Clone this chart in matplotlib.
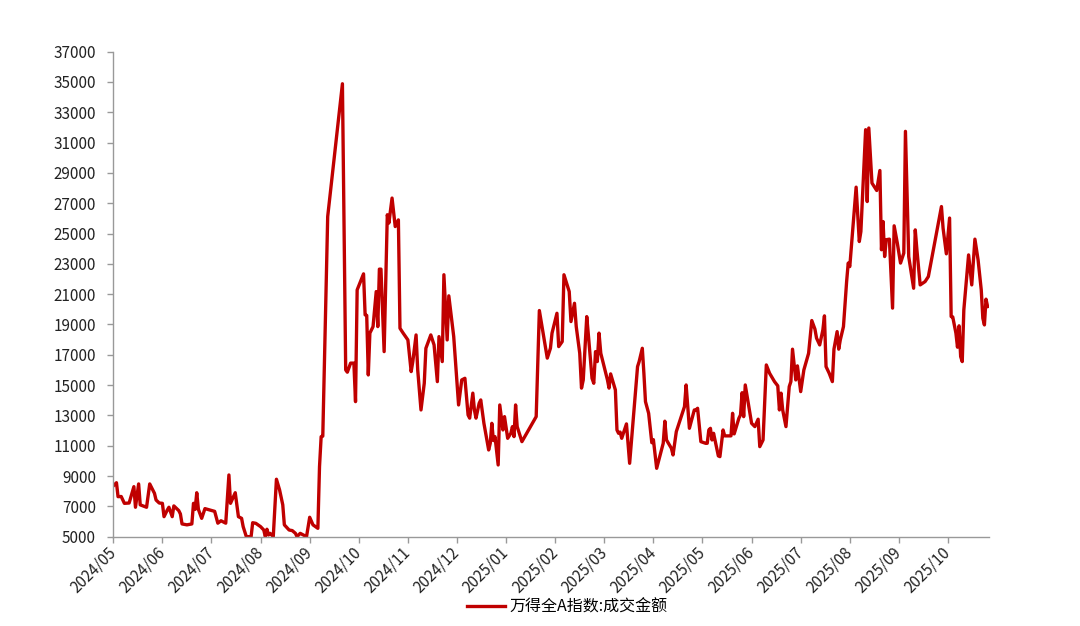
import calendar
import matplotlib
matplotlib.use("Agg")
import matplotlib.pyplot as plt
import matplotlib.transforms as mtransforms
import pandas as pd

plt.rcParams['font.family'] = ['Noto Sans CJK SC', 'DejaVu Sans']

series_name = "万得全A指数:成交金额"

dates = [
    "2024-05-01", "2024-05-03", "2024-05-04", "2024-05-06", "2024-05-08", "2024-05-11", "2024-05-14",
    "2024-05-15", "2024-05-17", "2024-05-18", "2024-05-22", "2024-05-24", "2024-05-27", "2024-05-28",
    "2024-05-30", "2024-06-01", "2024-06-02", "2024-06-04", "2024-06-05", "2024-06-07", "2024-06-08",
    "2024-06-11", "2024-06-12", "2024-06-13", "2024-06-16", "2024-06-19", "2024-06-20", "2024-06-21",
    "2024-06-22", "2024-06-23", "2024-06-25", "2024-06-27", "2024-06-30", "2024-07-03", "2024-07-05",
    "2024-07-07", "2024-07-10", "2024-07-12", "2024-07-13", "2024-07-16", "2024-07-18", "2024-07-20",
    "2024-07-21", "2024-07-23", "2024-07-26", "2024-07-27", "2024-07-29", "2024-08-01", "2024-08-03",
    "2024-08-04", "2024-08-05", "2024-08-06", "2024-08-07", "2024-08-09", "2024-08-11", "2024-08-13",
    "2024-08-15", "2024-08-16", "2024-08-19", "2024-08-21", "2024-08-23", "2024-08-24", "2024-08-26",
    "2024-08-28", "2024-08-30", "2024-09-01", "2024-09-03", "2024-09-06", "2024-09-07", "2024-09-08",
    "2024-09-09", "2024-09-12", "2024-09-21", "2024-09-23", "2024-09-24", "2024-09-26", "2024-09-28",
    "2024-09-29", "2024-09-30", "2024-10-04", "2024-10-05", "2024-10-06", "2024-10-07", "2024-10-08",
    "2024-10-10", "2024-10-12", "2024-10-13", "2024-10-14", "2024-10-15", "2024-10-17", "2024-10-19",
    "2024-10-20", "2024-10-22", "2024-10-24", "2024-10-26", "2024-10-27", "2024-10-29", "2024-11-01",
    "2024-11-03", "2024-11-04", "2024-11-06", "2024-11-07", "2024-11-09", "2024-11-11", "2024-11-12",
    "2024-11-15", "2024-11-17", "2024-11-19", "2024-11-20", "2024-11-22", "2024-11-23", "2024-11-25",
    "2024-11-26", "2024-11-29", "2024-12-02", "2024-12-04", "2024-12-06", "2024-12-08", "2024-12-09",
    "2024-12-11", "2024-12-12", "2024-12-13", "2024-12-15", "2024-12-16", "2024-12-18", "2024-12-21",
    "2024-12-22", "2024-12-23", "2024-12-24", "2024-12-25", "2024-12-27", "2024-12-28", "2024-12-30",
    "2024-12-31", "2025-01-02", "2025-01-04", "2025-01-05", "2025-01-06", "2025-01-07", "2025-01-08",
    "2025-01-11", "2025-01-20", "2025-01-22", "2025-01-27", "2025-01-29", "2025-01-30", "2025-02-02",
    "2025-02-03", "2025-02-05", "2025-02-06", "2025-02-09", "2025-02-10", "2025-02-12", "2025-02-13",
    "2025-02-15", "2025-02-16", "2025-02-17", "2025-02-19", "2025-02-20", "2025-02-22", "2025-02-23",
    "2025-02-24", "2025-02-25", "2025-02-26", "2025-02-27", "2025-03-03", "2025-03-04", "2025-03-05",
    "2025-03-08", "2025-03-09", "2025-03-10", "2025-03-11", "2025-03-12", "2025-03-15", "2025-03-17",
    "2025-03-22", "2025-03-23", "2025-03-25", "2025-03-26", "2025-03-27", "2025-03-29", "2025-03-31",
    "2025-04-01", "2025-04-03", "2025-04-07", "2025-04-08", "2025-04-09", "2025-04-12", "2025-04-13",
    "2025-04-15", "2025-04-20", "2025-04-21", "2025-04-23", "2025-04-26", "2025-04-27", "2025-04-28",
    "2025-04-30", "2025-05-03", "2025-05-04", "2025-05-05", "2025-05-06", "2025-05-07", "2025-05-08",
    "2025-05-11", "2025-05-12", "2025-05-14", "2025-05-15", "2025-05-19", "2025-05-20", "2025-05-21",
    "2025-05-24", "2025-05-25", "2025-05-26", "2025-05-27", "2025-05-28", "2025-06-01", "2025-06-03",
    "2025-06-05", "2025-06-06", "2025-06-08", "2025-06-10", "2025-06-12", "2025-06-15", "2025-06-17",
    "2025-06-18", "2025-06-19", "2025-06-20", "2025-06-22", "2025-06-24", "2025-06-25", "2025-06-26",
    "2025-06-28", "2025-06-29", "2025-07-01", "2025-07-03", "2025-07-06", "2025-07-08", "2025-07-10",
    "2025-07-11", "2025-07-13", "2025-07-15", "2025-07-16", "2025-07-17", "2025-07-19", "2025-07-21",
    "2025-07-22", "2025-07-24", "2025-07-25", "2025-07-26", "2025-07-28", "2025-07-30", "2025-07-31",
    "2025-08-01", "2025-08-05", "2025-08-07", "2025-08-08", "2025-08-11", "2025-08-12", "2025-08-13",
    "2025-08-15", "2025-08-18", "2025-08-20", "2025-08-21", "2025-08-22", "2025-08-23", "2025-08-24",
    "2025-08-26", "2025-08-28", "2025-08-29", "2025-08-31", "2025-09-02", "2025-09-04", "2025-09-05",
    "2025-09-07", "2025-09-10", "2025-09-11", "2025-09-12", "2025-09-14", "2025-09-17", "2025-09-19",
    "2025-09-27", "2025-09-28", "2025-09-30", "2025-10-02", "2025-10-03", "2025-10-04", "2025-10-06",
    "2025-10-07", "2025-10-08", "2025-10-09", "2025-10-10", "2025-10-11", "2025-10-13", "2025-10-14",
    "2025-10-16", "2025-10-18", "2025-10-20", "2025-10-22", "2025-10-23", "2025-10-24", "2025-10-25",
    "2025-10-26",
]

turnover = [
    8350, 8560, 7640, 7650, 7200, 7220, 8300,
    6940, 8480, 7100, 6940, 8480, 7860, 7420,
    7220, 7200, 6320, 6760, 6940, 6320, 7030,
    6720, 6500, 5840, 5780, 5840, 7200, 6800,
    7900, 6800, 6210, 6850, 6760, 6670, 5890,
    6050, 5890, 9070, 7200, 7900, 6320, 6210,
    5660, 5000, 5000, 5920, 5880, 5660, 5440,
    5000, 5490, 5110, 5220, 5000, 8790, 8080,
    7100, 5780, 5440, 5400, 5220, 5000, 5220,
    5110, 5000, 6280, 5780, 5550, 9620, 11600,
    11630, 26120, 34880, 16000, 15850, 16450, 16450,
    13910, 21280, 22340, 19630, 19600, 15670, 18430,
    18860, 21170, 18860, 22650, 22650, 17210, 26240,
    25690, 27340, 25460, 25900, 18750, 18430, 17980,
    15890, 16550, 18310, 16000, 13360, 15120, 17430,
    18310, 17650, 15230, 18200, 16550, 22280, 17980,
    20890, 18200, 13690, 15340, 15450, 13030, 12820,
    14470, 13360, 12820, 13800, 14020, 12480, 10720,
    11160, 12480, 11340, 11600, 9730, 13690, 12040,
    12920, 11490, 11820, 12260, 11600, 13690, 12260,
    11270, 12920, 19920, 16780, 17430, 18430, 19740,
    17540, 17870, 22280, 21170, 19190, 20400, 18860,
    17100, 14800, 15340, 19520, 18200, 15450, 15120,
    17210, 16550, 18430, 17100, 15340, 14800, 15740,
    14680, 12040, 11820, 11900, 11490, 12440, 9840,
    16220, 16550, 17430, 15780, 13910, 13140, 11200,
    11400, 9510, 11160, 12620, 11380, 10830, 10390,
    11930, 13580, 15010, 12150, 13360, 13360, 13470,
    11270, 11160, 11160, 12040, 12150, 11380, 11820,
    10330, 10280, 12040, 11650, 11650, 13140, 11780,
    12820, 13030, 14500, 12920, 15010, 12480, 12260,
    12750, 10940, 11380, 16330, 15780, 15230, 14950,
    13360, 14470, 13360, 12260, 14900, 15230, 17370,
    15340, 16270, 14570, 16000, 17100, 19260, 18690,
    18100, 17650, 18640, 19570, 16220, 15780, 15230,
    17370, 18530, 17370, 17980, 18860, 21830, 23050,
    22820, 28060, 24470, 25130, 31850, 27110, 31960,
    28330, 27840, 29160, 23930, 25790, 23480, 24590,
    24630, 20080, 25510, 24370, 23050, 23710, 31740,
    23480, 21390, 25240, 23930, 21610, 21830, 22160,
    26780, 25350, 23660, 26020, 19520, 19500, 18430,
    17500, 18910, 16880, 16550, 19960, 22380, 23590,
    21610, 24630, 23260, 21280, 19410, 18970, 20670,
    20180,
]

month_labels = ["2024/05", "2024/06", "2024/07", "2024/08", "2024/09", "2024/10",
                "2024/11", "2024/12", "2025/01", "2025/02", "2025/03", "2025/04",
                "2025/05", "2025/06", "2025/07", "2025/08", "2025/09", "2025/10"]

y_ticks = list(range(5000, 37001, 2000))


def month_pos(d):
    # each month gets the same width on the axis, like the source chart
    m = (d.year - 2024) * 12 + d.month - 5
    return m + (d.day - 1) / calendar.monthrange(d.year, d.month)[1]


dt = pd.to_datetime(dates)
xs = [month_pos(d) for d in dt]

fig = plt.figure(figsize=(10.8, 6.26), dpi=100)
ax = fig.add_axes([0.1049, 0.1427, 0.811, 0.7748])

ax.plot(xs, turnover, color="#C00000", lw=2.4, label=series_name)

ax.set_ylim(5000, 37000)
ax.set_yticks(y_ticks)
ax.set_yticklabels([str(v) for v in y_ticks])
ax.set_xlim(0, month_pos(pd.Timestamp("2025-10-27")))
ax.set_xticks(range(len(month_labels)))
ax.set_xticklabels(month_labels, rotation=45, ha="right", va="center",
                   rotation_mode="anchor")

# nudge the slanted month labels a little to the right
shift = mtransforms.ScaledTranslation(2.5 / 72, 0, fig.dpi_scale_trans)
for lab in ax.get_xticklabels():
    lab.set_transform(lab.get_transform() + shift)

for s in ["top", "right"]:
    ax.spines[s].set_visible(False)
for s in ["left", "bottom"]:
    ax.spines[s].set_color("#999999")
    ax.spines[s].set_linewidth(1.0)
ax.tick_params(axis="both", direction="out", length=4.5, width=1.0, color="#999999",
               labelsize=11, labelcolor="#222222")
ax.tick_params(axis="y", pad=8)
ax.tick_params(axis="x", pad=5)

fig.legend(loc="center", bbox_to_anchor=(0.525, 0.031), frameon=False,
           fontsize=11.5, handlelength=2.4, handletextpad=0.25)

fig.savefig("out.png", dpi=100)
